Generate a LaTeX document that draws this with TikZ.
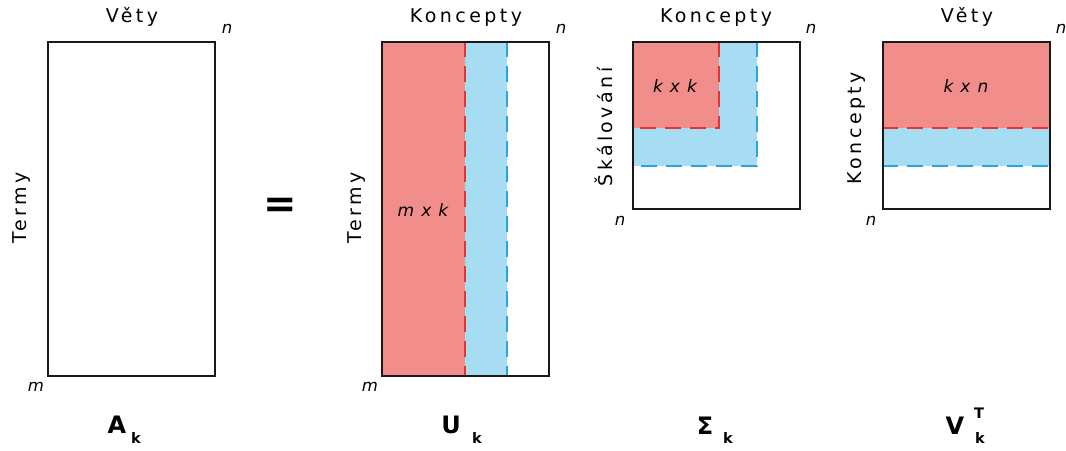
\documentclass[tikz,border=0pt]{standalone}
\usepackage{fontspec}
\setmainfont{DejaVu Sans}
\newfontfamily\spc{DejaVu Sans}[LetterSpace=18]
\newfontfamily\spit{DejaVu Sans Oblique}[LetterSpace=10]
\newfontfamily\bfnt{DejaVu Sans Bold}
\definecolor{redfill}{RGB}{241,141,138}
\definecolor{bluefill}{RGB}{167,221,243}
\definecolor{reddash}{RGB}{230,50,48}
\definecolor{bluedash}{RGB}{40,165,224}
\tikzset{
  mat/.style={draw=black!90, line width=1.5pt},
  rdash/.style={draw=reddash, line width=1.3pt, dash pattern=on 16pt off 9pt},
  bdash/.style={draw=bluedash, line width=1.3pt, dash pattern=on 16pt off 9pt},
  head/.style={font=\spc\fontsize{19}{22}\selectfont, inner sep=0pt, anchor=base},
  side/.style={font=\spc\fontsize{19}{22}\selectfont, inner sep=0pt, rotate=90, anchor=base},
  dim/.style={font=\spit\fontsize{17}{19}\selectfont, inner sep=0pt},
  corner/.style={font=\spit\fontsize{16.5}{18}\selectfont, inner sep=0pt},
  big/.style={font=\bfnt\fontsize{24}{26}\selectfont, inner sep=0pt},
  sub/.style={font=\bfnt\fontsize{14.5}{16}\selectfont, inner sep=0pt},
}
\begin{document}
\begin{tikzpicture}[x=1pt,y=-1pt]
\useasboundingbox (0,0) rectangle (1066,450);
% ---------- A_k ----------
\node[mat, minimum width=167pt, minimum height=334pt, inner sep=0pt, anchor=north west] (A) at (47,41) {};
\node[head] (Ahead) at (132,22) {Věty};
\node[side] (Aside) at (27,208) {Termy};
\node[corner] (An) at (227,29) {n};
\node[corner] (Am) at (36,387) {m};
\node[big] (Alab) at (117,425) {A};
\node[sub] (Asub) at (136,438) {k};
% ---------- = ----------
\node[font=\bfnt\fontsize{40}{40}\selectfont, inner sep=0pt] (eq) at (280,208) {=};
% ---------- U_k ----------
\fill[redfill] (381,41) rectangle (465,375);
\fill[bluefill] (465,41) rectangle (507,375);
\coordinate (Ur1) at (465,41); \coordinate (Ur2) at (465,375);
\coordinate (Ub1) at (507,41); \coordinate (Ub2) at (507,375);
\draw[rdash] (Ur1) -- (Ur2);
\draw[bdash] (Ub1) -- (Ub2);
\node[mat, minimum width=167pt, minimum height=334pt, inner sep=0pt, anchor=north west] (U) at (381,41) {};
\node[head] (Uhead) at (466,22) {Koncepty};
\node[side] (Uside) at (361,208) {Termy};
\node[corner] (Un) at (561,29) {n};
\node[corner] (Um) at (370,387) {m};
\node[dim] (Udim) at (423,210) {m x k};
\node[big] (Ulab) at (451,425) {U};
\node[sub] (Usub) at (477,438) {k};
% ---------- Sigma_k ----------
\fill[bluefill] (632,41) rectangle (757,166);
\fill[redfill] (632,41) rectangle (719,128);
\coordinate (Sr1) at (719,41); \coordinate (Sr2) at (719,128); \coordinate (Sr3) at (632,128);
\coordinate (Sb1) at (757,41); \coordinate (Sb2) at (757,166); \coordinate (Sb3) at (632,166);
\draw[rdash] (Sr1) -- (Sr2) -- (Sr3);
\draw[bdash] (Sb1) -- (Sb2) -- (Sb3);
\node[mat, minimum width=167pt, minimum height=167pt, inner sep=0pt, anchor=north west] (S) at (632,41) {};
\node[head] (Shead) at (716,22) {Koncepty};
\node[side] (Sside) at (612,127) {Škálování};
\node[corner] (Sn1) at (811,29) {n};
\node[corner] (Sn2) at (620,221) {n};
\node[dim] (Sdim) at (675,86) {k x k};
\node[big] (Slab) at (705,426) {Σ};
\node[sub] (Ssub) at (728,438) {k};
% ---------- V_k^T ----------
\fill[redfill] (882,41) rectangle (1049,128);
\fill[bluefill] (882,128) rectangle (1049,166);
\coordinate (Vr1) at (882,128); \coordinate (Vr2) at (1049,128);
\coordinate (Vb1) at (882,166); \coordinate (Vb2) at (1049,166);
\draw[rdash] (Vr1) -- (Vr2);
\draw[bdash] (Vb1) -- (Vb2);
\node[mat, minimum width=167pt, minimum height=167pt, inner sep=0pt, anchor=north west] (V) at (882,41) {};
\node[head] (Vhead) at (967,22) {Věty};
\node[side] (Vside) at (861,128) {Koncepty};
\node[corner] (Vn1) at (1061,29) {n};
\node[corner] (Vn2) at (871,221) {n};
\node[dim] (Vdim) at (966,86) {k x n};
\node[big] (Vlab) at (955,426) {V};
\node[sub] (Vsub) at (980,438) {k};
\node[sub] (Vsup) at (979,413) {T};
\end{tikzpicture}
\end{document}
